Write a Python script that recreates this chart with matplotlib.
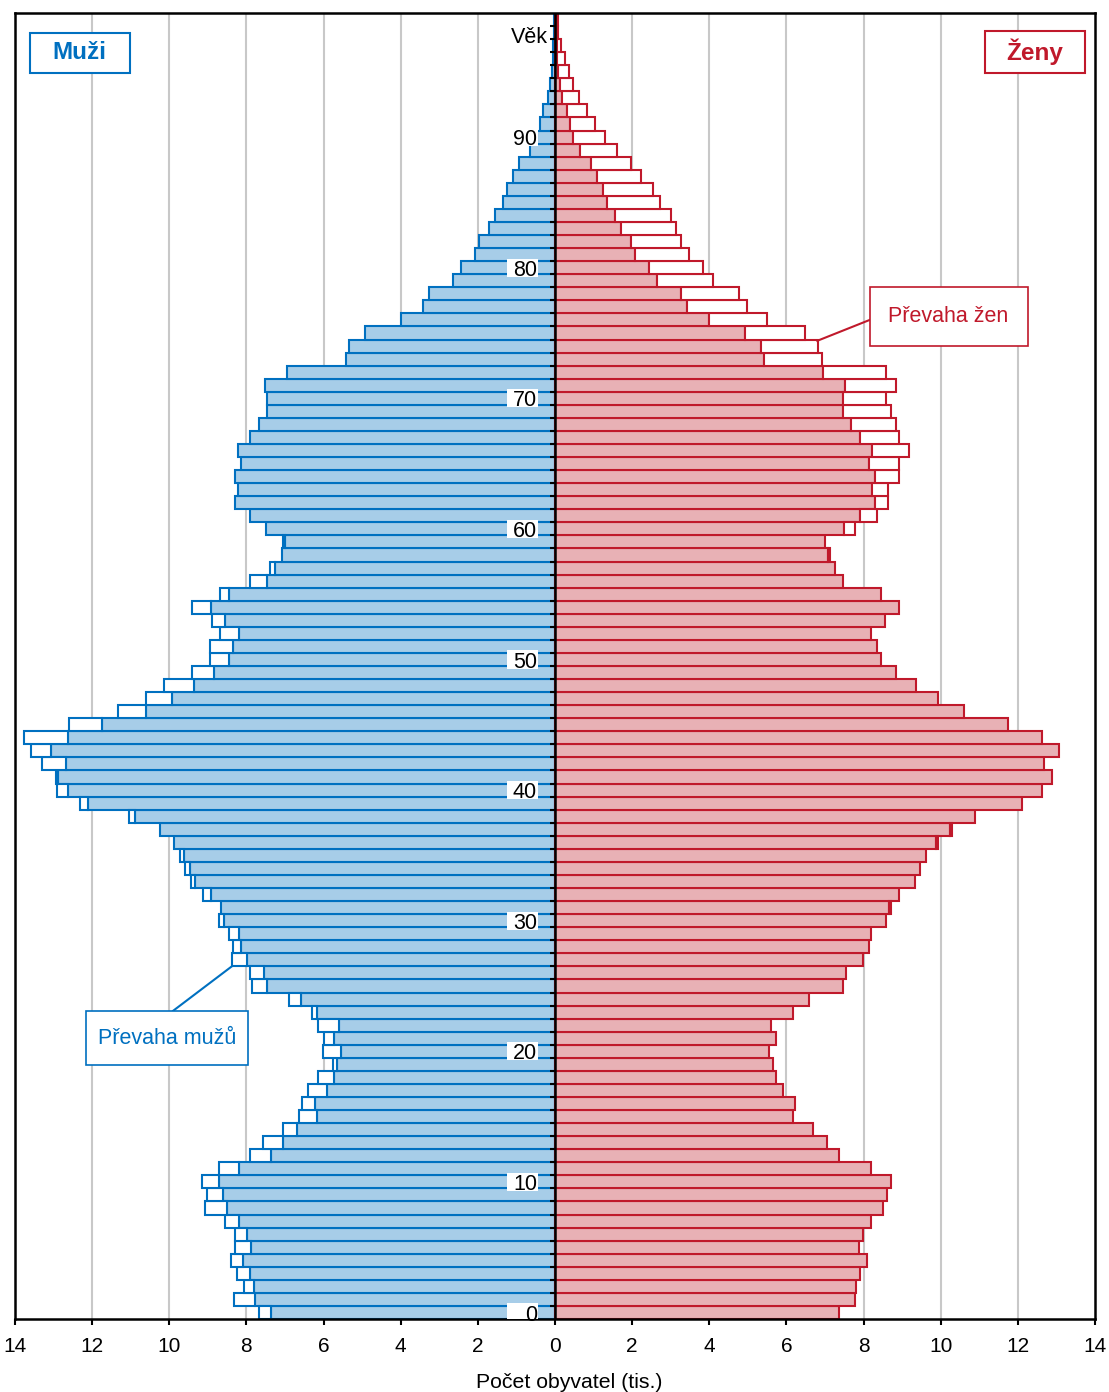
import numpy as np
import matplotlib.pyplot as plt
from matplotlib.patches import Rectangle

plt.rcParams['font.family'] = ['Liberation Sans', 'DejaVu Sans']

# vek 0-99, pocty v tisicich
ages = np.arange(0, 100)
muzi = [7.68, 8.32, 8.06, 8.24, 8.41, 8.30, 8.29, 8.55, 9.08, 9.01,
        9.14, 8.70, 7.92, 7.57, 7.05, 6.63, 6.56, 6.41, 6.14, 5.75,
        6.02, 5.99, 6.15, 6.30, 6.90, 7.86, 7.90, 8.38, 8.35, 8.44,
        8.72, 8.65, 9.13, 9.44, 9.58, 9.73, 9.87, 10.23, 11.05, 12.32,
        12.90, 12.95, 13.30, 13.59, 13.76, 12.60, 11.32, 10.61, 10.13, 9.40,
        8.95, 8.94, 8.69, 8.89, 9.40, 8.69, 7.92, 7.40, 7.07, 7.05,
        7.50, 7.92, 8.29, 8.22, 8.29, 8.13, 8.23, 7.92, 7.68, 7.46,
        7.46, 7.51, 6.94, 5.42, 5.33, 4.92, 3.98, 3.42, 3.26, 2.64,
        2.43, 2.08, 1.97, 1.71, 1.55, 1.34, 1.25, 1.09, 0.93, 0.65,
        0.46, 0.40, 0.30, 0.17, 0.13, 0.09, 0.05, 0.04, 0.02, 0.02]
zeny = [7.36, 7.77, 7.81, 7.92, 8.08, 7.88, 7.98, 8.18, 8.50, 8.60,
        8.71, 8.18, 7.36, 7.04, 6.69, 6.17, 6.21, 5.91, 5.74, 5.65,
        5.54, 5.73, 5.59, 6.17, 6.58, 7.46, 7.55, 7.98, 8.13, 8.18,
        8.59, 8.71, 8.91, 9.33, 9.47, 9.63, 9.94, 10.30, 10.88, 12.12,
        12.63, 12.89, 12.68, 13.06, 12.63, 11.75, 10.61, 9.94, 9.36, 8.85,
        8.44, 8.34, 8.18, 8.55, 8.91, 8.44, 7.46, 7.26, 7.14, 7.00,
        7.78, 8.34, 8.64, 8.64, 8.91, 8.91, 9.17, 8.91, 8.85, 8.71,
        8.59, 8.85, 8.59, 6.93, 6.83, 6.47, 5.49, 4.97, 4.76, 4.09,
        3.84, 3.47, 3.26, 3.14, 3.00, 2.73, 2.54, 2.23, 1.97, 1.61,
        1.29, 1.03, 0.82, 0.61, 0.46, 0.36, 0.26, 0.15, 0.09, 0.07]
age_labels = [0, 10, 20, 30, 40, 50, 60, 70, 80, 90]
x_ticks = np.arange(-14, 15, 2)

m_face, m_edge = '#A7CDE8', '#0070C0'
z_face, z_edge = '#E8B1B5', '#C0192B'

m = np.array(muzi)
z = np.array(zeny)
spolecne = np.minimum(m, z)

fig = plt.figure(figsize=(11.09, 13.92), dpi=100)
ax = fig.add_axes([0.01353, 0.05244, 0.97385, 0.93822])

for g in x_ticks:
    if g not in (0, -14, 14):
        ax.axvline(g, color='#C8C8C8', lw=1.5, zorder=0)

# spolecna cast
ax.barh(ages, -spolecne, height=1, color=m_face, edgecolor=m_edge, lw=1.5, zorder=2)
ax.barh(ages, spolecne, height=1, color=z_face, edgecolor=z_edge, lw=1.5, zorder=2)

# prevaha
mask = m > z
ax.barh(ages[mask], -(m - z)[mask], left=-spolecne[mask], height=1,
        color='white', edgecolor=m_edge, lw=1.5, zorder=2)
mask = z > m
ax.barh(ages[mask], (z - m)[mask], left=spolecne[mask], height=1,
        color='white', edgecolor=z_edge, lw=1.5, zorder=2)

# stredova osa
ax.axvline(0, color='black', lw=1.8, zorder=4)
ax.hlines(ages[:-1] + 0.5, -0.13, 0, color='black', lw=1.5, zorder=4)

for a in age_labels:
    ax.add_patch(Rectangle((-1.24, a - 0.7), 0.8, 1.4, fc='white', ec='none', zorder=5))
    ax.text(-0.47, a - 0.2, str(a), ha='right', va='center', fontsize=15.5, zorder=6)
ax.text(-0.18, 97.6, 'Věk', ha='right', va='center', fontsize=15.5, zorder=6)

ax.set_xlim(-14, 14)
ax.set_ylim(-0.5, 99.5)
ax.set_xticks(x_ticks)
ax.set_xticklabels([str(abs(t)) for t in x_ticks])
ax.set_yticks([])
ax.tick_params(axis='x', labelsize=15, length=4, width=1.5, pad=9)
for s in ax.spines.values():
    s.set_linewidth(1.8)
ax.set_xlabel('Počet obyvatel (tis.)', fontsize=15.3)
ax.xaxis.set_label_coords(0.513, -0.0415)

# nadpisy pohlavi
ax.add_patch(Rectangle((0.0139, 0.954), 0.0926, 0.031, transform=ax.transAxes,
                       fc='white', ec=m_edge, lw=1.5, zorder=7))
ax.text(0.060, 0.9695, 'Muži', transform=ax.transAxes, ha='center', va='center',
        fontsize=17.5, fontweight='bold', color=m_edge, zorder=8)
ax.add_patch(Rectangle((0.898, 0.954), 0.093, 0.032, transform=ax.transAxes,
                       fc='white', ec=z_edge, lw=1.5, zorder=7))
ax.text(0.9445, 0.970, 'Ženy', transform=ax.transAxes, ha='center', va='center',
        fontsize=17.5, fontweight='bold', color=z_edge, zorder=8)

# popisky prevahy
ax.plot([8.16, 6.8], [76.0, 74.4], color=z_edge, lw=1.5, zorder=7)
ax.add_patch(Rectangle((8.16, 74.0), 4.09, 4.5, fc='white', ec=z_edge, lw=1.2, zorder=7))
ax.text(10.2, 76.25, 'Převaha žen', ha='center', va='center', fontsize=15.5,
        color=z_edge, zorder=8)

ax.plot([-9.9, -8.38], [23.1, 26.5], color=m_edge, lw=1.5, zorder=7)
ax.add_patch(Rectangle((-12.15, 18.95), 4.2, 4.15, fc='white', ec=m_edge, lw=1.2, zorder=7))
ax.text(-10.05, 21.0, 'Převaha mužů', ha='center', va='center', fontsize=15.5,
        color=m_edge, zorder=8)

fig.savefig('out.png', dpi=100)
